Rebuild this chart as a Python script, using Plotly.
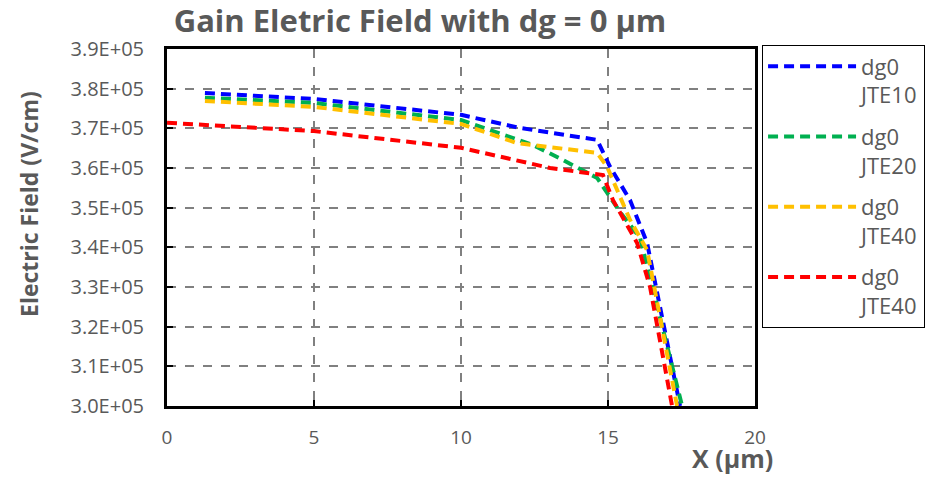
import plotly.graph_objects as go

# ---- data ----
x_dg0_jte10 = [1.29, 5.0, 10.0, 12.0, 14.63, 15.07, 15.75, 16.33, 17.45]
y_dg0_jte10 = [378900, 377400, 373400, 370100, 367100, 360300, 351900, 341100, 300000]

x_dg0_jte20 = [1.29, 5.0, 10.0, 12.45, 13.47, 14.63, 15.41, 16.09, 17.52]
y_dg0_jte20 = [377700, 376400, 372100, 365800, 362000, 357500, 348900, 342400, 300000]

x_dg0_jte40a = [1.29, 5.0, 10.0, 11.9, 14.63, 14.97, 15.75, 16.33, 17.35]
y_dg0_jte40a = [376900, 375400, 371100, 366300, 363800, 360300, 346900, 339300, 300000]

x_dg0_jte40b = [0.0, 5.0, 10.0, 13.03, 14.83, 15.17, 15.99, 16.43, 17.18]
y_dg0_jte40b = [371400, 369300, 365100, 360000, 358200, 351900, 341100, 330000, 300000]

series_names = ["dg0<br>JTE10", "dg0<br>JTE20", "dg0<br>JTE40", "dg0<br>JTE40"]
series_colors = ["#0000FF", "#00B050", "#FFC000", "#FF0000"]

x_ticks = [0, 5, 10, 15, 20]
y_ticks = [300000, 310000, 320000, 330000, 340000, 350000, 360000, 370000, 380000, 390000]
y_tick_labels = ["3.0E+05", "3.1E+05", "3.2E+05", "3.3E+05", "3.4E+05",
                 "3.5E+05", "3.6E+05", "3.7E+05", "3.8E+05", "3.9E+05"]

title_text = "Gain Eletric Field with dg = 0 μm"
x_title = "X (μm)"
y_title = "Electric Field (V/cm)"

FONT = "Open Sans"
GRAY = "#595959"

xs = [x_dg0_jte10, x_dg0_jte20, x_dg0_jte40a, x_dg0_jte40b]
ys = [y_dg0_jte10, y_dg0_jte20, y_dg0_jte40a, y_dg0_jte40b]

fig = go.Figure()
for i, (xv, yv, nm, col) in enumerate(zip(xs, ys, series_names, series_colors)):
    fig.add_trace(go.Scatter(
        x=xv, y=yv, name=nm, mode="lines",
        line=dict(color=col, width=4, dash="10px,6px"),
        legendgroup=f"g{i}",
    ))

fig.update_layout(
    width=943, height=477,
    margin=dict(l=167, r=188, t=49, b=71),
    paper_bgcolor="white", plot_bgcolor="white",
    font=dict(family=FONT, color=GRAY),
    title=dict(text="<b>" + title_text + "</b>", x=420 / 943, xanchor="center",
               y=1 - 21 / 477, yanchor="middle",
               font=dict(size=31, color=GRAY, family=FONT)),
    showlegend=True,
    legend=dict(x=1.012, y=(406 - 186) / 357, xanchor="left", yanchor="middle",
                bordercolor="black", borderwidth=1, bgcolor="white",
                font=dict(size=22, color=GRAY, family=FONT),
                tracegroupgap=10, itemwidth=88, valign="top",
                entrywidth=200),
)

fig.update_xaxes(
    range=[0, 20], tickvals=x_ticks, ticks="inside", ticklen=6, tickwidth=2,
    tickcolor="black", showline=True, linecolor="black", linewidth=3, mirror=True,
    showgrid=True, gridcolor="#808080", gridwidth=2, griddash="dash",
    tickfont=dict(size=19, color=GRAY), zeroline=False, ticklabelstandoff=12,
)
fig.update_yaxes(
    range=[300000, 390000], tickvals=y_ticks, ticktext=y_tick_labels,
    ticks="inside", ticklen=6, tickwidth=2, tickcolor="black",
    showline=True, linecolor="black", linewidth=3, mirror=True,
    showgrid=True, gridcolor="#808080", gridwidth=2, griddash="dash",
    tickfont=dict(size=20, color=GRAY), zeroline=False, ticklabelstandoff=16,
)

fig.add_annotation(text="<b>" + y_title + "</b>", xref="paper", yref="paper",
                   x=-138 / 588, y=(406 - 204) / 357, textangle=-90,
                   showarrow=False, font=dict(size=23, color=GRAY, family=FONT),
                   xanchor="center", yanchor="middle")
fig.add_annotation(text="<b>" + x_title + "</b>", xref="paper", yref="paper",
                   x=(732 - 167) / 588, y=-(458 - 406) / 357,
                   showarrow=False, font=dict(size=25, color=GRAY, family=FONT),
                   xanchor="center", yanchor="middle")

fig.write_html("out.html")
